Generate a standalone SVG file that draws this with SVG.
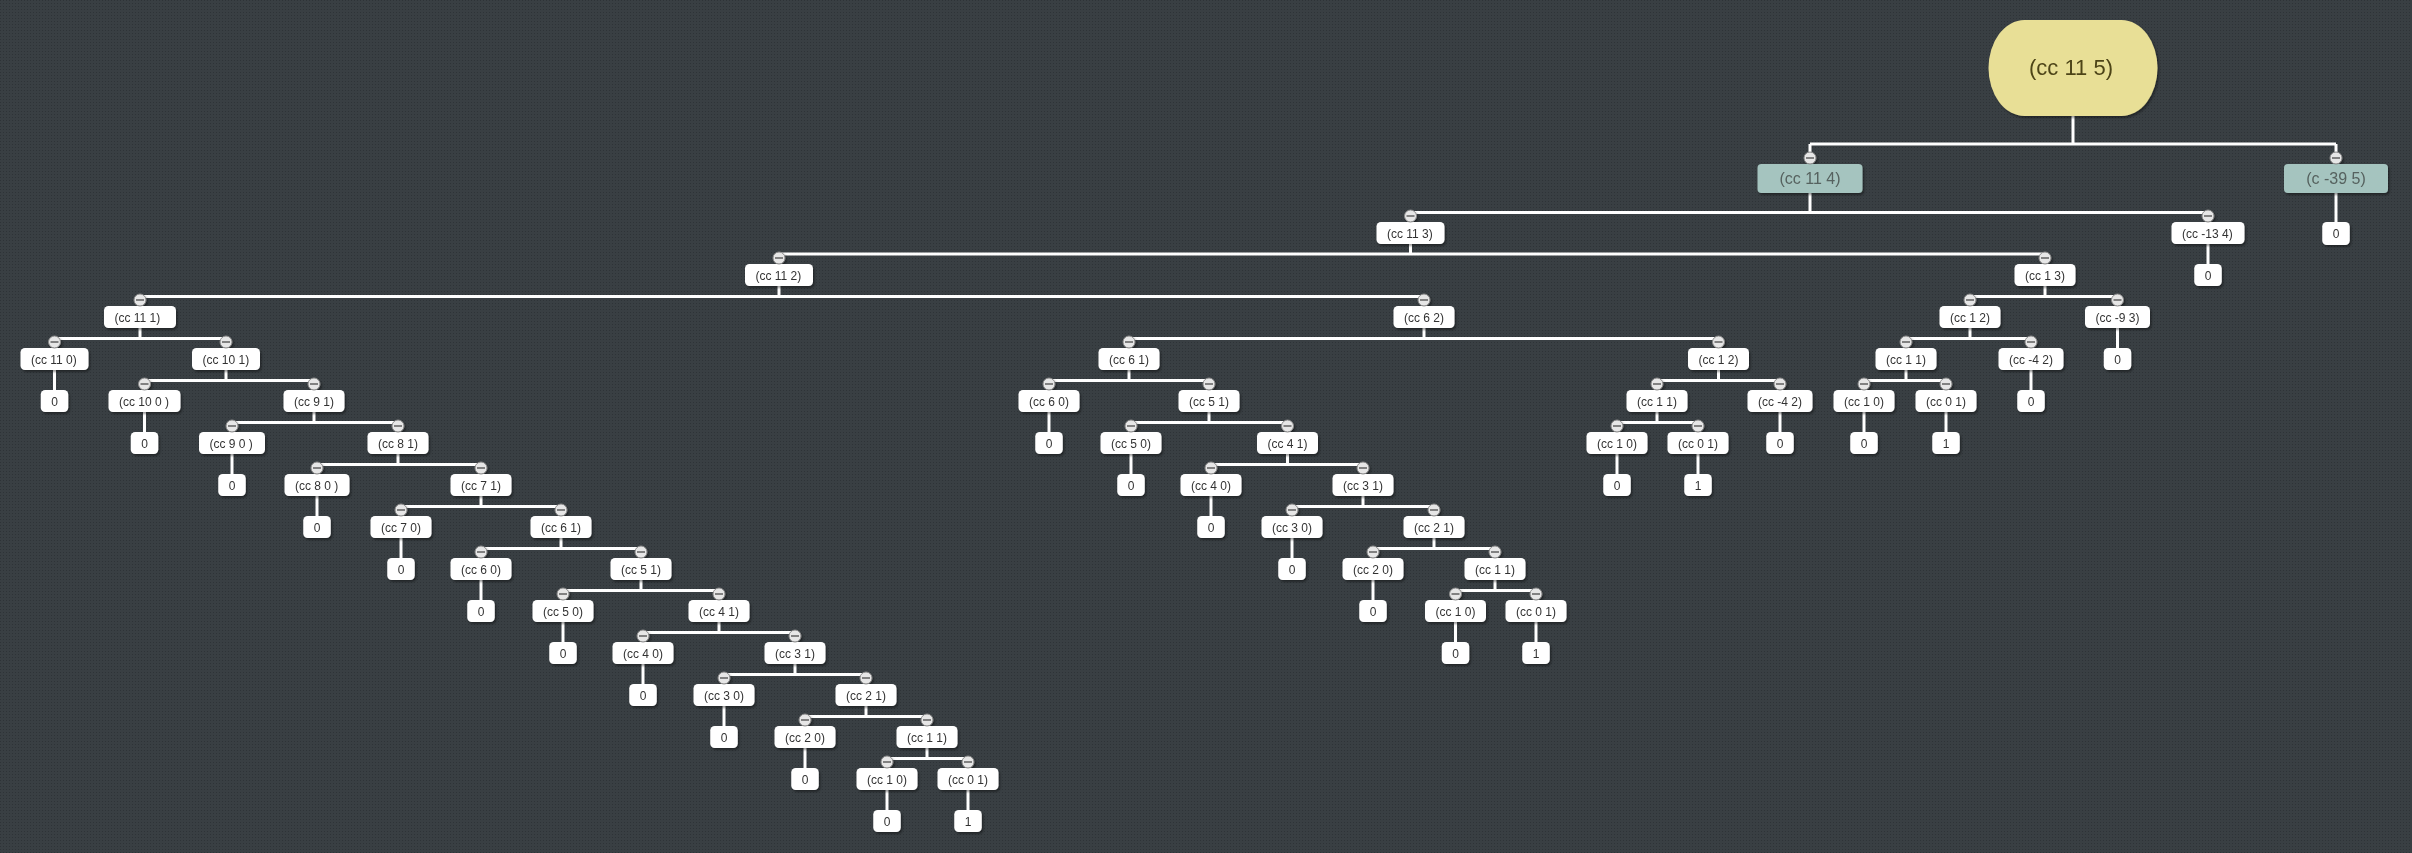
<svg xmlns="http://www.w3.org/2000/svg" xmlns:xlink="http://www.w3.org/1999/xlink" width="2412" height="853" viewBox="0 0 2412 853">
<style>
.n rect{fill:#ffffff}
.n text{font-family:"Liberation Sans",Arial,sans-serif;font-size:12px;fill:#333333}
.n{filter:url(#sh)}
.l1 rect{fill:#a5c4bf}
.l1 text{font-family:"Liberation Sans",Arial,sans-serif;font-size:16px;fill:#56625f;text-anchor:middle}
.root rect{fill:#e8df96}
.root text{font-family:"Liberation Sans",Arial,sans-serif;font-size:22px;fill:#4d4419;text-anchor:middle}
#edges path{stroke:#ffffff;stroke-width:3;fill:none}
</style>
<defs>
<pattern id="dots" width="3" height="3" patternUnits="userSpaceOnUse">
<rect width="3" height="3" fill="#393f43"/>
<rect width="1" height="1" fill="#2e3337"/>
</pattern>
<filter id="sh" x="-20%" y="-20%" width="140%" height="160%">
<feDropShadow dx="1.5" dy="2" stdDeviation="1.2" flood-color="#000" flood-opacity="0.4"/>
</filter>
<g id="tog"><circle r="6" fill="#e6e6e6" stroke="#8a8a8a" stroke-width="1"/><path d="M-4 0H4" stroke="#555" stroke-width="1.4"/></g>
</defs>
<rect width="2412" height="853" fill="url(#dots)"/>

<g id="edges">
<path d="M2073 116V144M1810 144H2336M1810 144V152.5M2336 144V152.5"/>
<path d="M1810 193V212.5M1410.5 212.5H2208"/>
<path d="M2336 193V222"/>
<path d="M1410.5 244V254M779 254H2045"/>
<path d="M2208 244V264"/>
<path d="M779 286V296.5M140 296.5H1424"/>
<path d="M2045 286V296.5M1970 296.5H2117.5"/>
<path d="M140 328V338.5M54.5 338.5H226"/>
<path d="M1424 328V338.5M1129 338.5H1718.5"/>
<path d="M1970 328V338.5M1906 338.5H2031"/>
<path d="M2117.5 328V348"/>
<path d="M54.5 370V390"/>
<path d="M226 370V380.5M144.5 380.5H314"/>
<path d="M1129 370V380.5M1049 380.5H1209"/>
<path d="M1718.5 370V380.5M1657 380.5H1780"/>
<path d="M1906 370V380.5M1864 380.5H1946"/>
<path d="M2031 370V390"/>
<path d="M144.5 412V432"/>
<path d="M314 412V422.5M232 422.5H398"/>
<path d="M1049 412V432"/>
<path d="M1209 412V422.5M1131 422.5H1287.5"/>
<path d="M1657 412V422.5M1617 422.5H1698"/>
<path d="M1780 412V432"/>
<path d="M1864 412V432"/>
<path d="M1946 412V432"/>
<path d="M232 454V474"/>
<path d="M398 454V464.5M317 464.5H481"/>
<path d="M1131 454V474"/>
<path d="M1287.5 454V464.5M1211 464.5H1363"/>
<path d="M1617 454V474"/>
<path d="M1698 454V474"/>
<path d="M317 496V516"/>
<path d="M481 496V506.5M401 506.5H561"/>
<path d="M1211 496V516"/>
<path d="M1363 496V506.5M1292 506.5H1434"/>
<path d="M401 538V558"/>
<path d="M561 538V548.5M481 548.5H641"/>
<path d="M1292 538V558"/>
<path d="M1434 538V548.5M1373 548.5H1495"/>
<path d="M481 580V600"/>
<path d="M641 580V590.5M563 590.5H719"/>
<path d="M1373 580V600"/>
<path d="M1495 580V590.5M1455.5 590.5H1536"/>
<path d="M563 622V642"/>
<path d="M719 622V632.5M643 632.5H795"/>
<path d="M1455.5 622V642"/>
<path d="M1536 622V642"/>
<path d="M643 664V684"/>
<path d="M795 664V674.5M724 674.5H866"/>
<path d="M724 706V726"/>
<path d="M866 706V716.5M805 716.5H927"/>
<path d="M805 748V768"/>
<path d="M927 748V758.5M887 758.5H968"/>
<path d="M887 790V810"/>
<path d="M968 790V810"/>
</g>

<g id="n0" class="n root"><rect x="1988.5" y="20" width="169" height="96" rx="36" ry="48"/><text x="2071" y="75">(cc 11 5)</text></g>
<g id="n1" class="n l1"><rect x="1757.5" y="164" width="105" height="29" rx="4"/><text x="1810" y="184">(cc 11 4)</text><use href="#tog" x="1810" y="158"/></g>
<g id="n2" class="n l1"><rect x="2284" y="164" width="104" height="29" rx="4"/><text x="2336" y="184">(c -39 5)</text><use href="#tog" x="2336" y="158"/></g>

<g id="n3" class="n"><rect x="1376.5" y="222" width="68" height="22" rx="4.5"/><text x="1387" y="237.5">(cc 11 3)</text><use href="#tog" x="1410.5" y="216"/></g>
<g id="n4" class="n"><rect x="2171.5" y="222" width="73" height="22" rx="4.5"/><text x="2182" y="237.5">(cc -13 4)</text><use href="#tog" x="2208" y="216"/></g>
<g id="n5" class="n"><rect x="2322.25" y="222" width="27.5" height="23" rx="4.5"/><text x="2332.75" y="238">0</text></g>

<g id="n6" class="n"><rect x="745" y="264" width="68" height="22" rx="4.5"/><text x="755.5" y="279.5">(cc 11 2)</text><use href="#tog" x="779" y="258"/></g>
<g id="n7" class="n"><rect x="2014.5" y="264" width="61" height="22" rx="4.5"/><text x="2025" y="279.5">(cc 1 3)</text><use href="#tog" x="2045" y="258"/></g>
<g id="n8" class="n"><rect x="2194.25" y="264" width="27.5" height="22" rx="4.5"/><text x="2204.75" y="279.5">0</text></g>

<g id="n9" class="n"><rect x="104" y="306" width="72" height="22" rx="4.5"/><text x="114.5" y="321.5">(cc 11 1)</text><use href="#tog" x="140" y="300"/></g>
<g id="n10" class="n"><rect x="1393.5" y="306" width="61" height="22" rx="4.5"/><text x="1404" y="321.5">(cc 6 2)</text><use href="#tog" x="1424" y="300"/></g>
<g id="n11" class="n"><rect x="1939.5" y="306" width="61" height="22" rx="4.5"/><text x="1950" y="321.5">(cc 1 2)</text><use href="#tog" x="1970" y="300"/></g>
<g id="n12" class="n"><rect x="2085" y="306" width="65" height="22" rx="4.5"/><text x="2095.5" y="321.5">(cc -9 3)</text><use href="#tog" x="2117.5" y="300"/></g>

<g id="n13" class="n"><rect x="20.5" y="348" width="68" height="22" rx="4.5"/><text x="31" y="363.5">(cc 11 0)</text><use href="#tog" x="54.5" y="342"/></g>
<g id="n14" class="n"><rect x="192" y="348" width="68" height="22" rx="4.5"/><text x="202.5" y="363.5">(cc 10 1)</text><use href="#tog" x="226" y="342"/></g>
<g id="n15" class="n"><rect x="1098.5" y="348" width="61" height="22" rx="4.5"/><text x="1109" y="363.5">(cc 6 1)</text><use href="#tog" x="1129" y="342"/></g>
<g id="n16" class="n"><rect x="1688" y="348" width="61" height="22" rx="4.5"/><text x="1698.5" y="363.5">(cc 1 2)</text><use href="#tog" x="1718.5" y="342"/></g>
<g id="n17" class="n"><rect x="1875.5" y="348" width="61" height="22" rx="4.5"/><text x="1886" y="363.5">(cc 1 1)</text><use href="#tog" x="1906" y="342"/></g>
<g id="n18" class="n"><rect x="1998.5" y="348" width="65" height="22" rx="4.5"/><text x="2009" y="363.5">(cc -4 2)</text><use href="#tog" x="2031" y="342"/></g>
<g id="n19" class="n"><rect x="2103.75" y="348" width="27.5" height="22" rx="4.5"/><text x="2114.25" y="363.5">0</text></g>

<g id="n20" class="n"><rect x="40.75" y="390" width="27.5" height="22" rx="4.5"/><text x="51.25" y="405.5">0</text></g>
<g id="n21" class="n"><rect x="108.5" y="390" width="72" height="22" rx="4.5"/><text x="119" y="405.5">(cc 10 0 )</text><use href="#tog" x="144.5" y="384"/></g>
<g id="n22" class="n"><rect x="283.5" y="390" width="61" height="22" rx="4.5"/><text x="294" y="405.5">(cc 9 1)</text><use href="#tog" x="314" y="384"/></g>
<g id="n23" class="n"><rect x="1018.5" y="390" width="61" height="22" rx="4.5"/><text x="1029" y="405.5">(cc 6 0)</text><use href="#tog" x="1049" y="384"/></g>
<g id="n24" class="n"><rect x="1178.5" y="390" width="61" height="22" rx="4.5"/><text x="1189" y="405.5">(cc 5 1)</text><use href="#tog" x="1209" y="384"/></g>
<g id="n25" class="n"><rect x="1626.5" y="390" width="61" height="22" rx="4.5"/><text x="1637" y="405.5">(cc 1 1)</text><use href="#tog" x="1657" y="384"/></g>
<g id="n26" class="n"><rect x="1747.5" y="390" width="65" height="22" rx="4.5"/><text x="1758" y="405.5">(cc -4 2)</text><use href="#tog" x="1780" y="384"/></g>
<g id="n27" class="n"><rect x="1833.5" y="390" width="61" height="22" rx="4.5"/><text x="1844" y="405.5">(cc 1 0)</text><use href="#tog" x="1864" y="384"/></g>
<g id="n28" class="n"><rect x="1915.5" y="390" width="61" height="22" rx="4.5"/><text x="1926" y="405.5">(cc 0 1)</text><use href="#tog" x="1946" y="384"/></g>
<g id="n29" class="n"><rect x="2017.25" y="390" width="27.5" height="22" rx="4.5"/><text x="2027.75" y="405.5">0</text></g>

<g id="n30" class="n"><rect x="130.75" y="432" width="27.5" height="22" rx="4.5"/><text x="141.25" y="447.5">0</text></g>
<g id="n31" class="n"><rect x="199" y="432" width="66" height="22" rx="4.5"/><text x="209.5" y="447.5">(cc 9 0 )</text><use href="#tog" x="232" y="426"/></g>
<g id="n32" class="n"><rect x="367.5" y="432" width="61" height="22" rx="4.5"/><text x="378" y="447.5">(cc 8 1)</text><use href="#tog" x="398" y="426"/></g>
<g id="n33" class="n"><rect x="1035.25" y="432" width="27.5" height="22" rx="4.5"/><text x="1045.75" y="447.5">0</text></g>
<g id="n34" class="n"><rect x="1100.5" y="432" width="61" height="22" rx="4.5"/><text x="1111" y="447.5">(cc 5 0)</text><use href="#tog" x="1131" y="426"/></g>
<g id="n35" class="n"><rect x="1257" y="432" width="61" height="22" rx="4.5"/><text x="1267.5" y="447.5">(cc 4 1)</text><use href="#tog" x="1287.5" y="426"/></g>
<g id="n36" class="n"><rect x="1586.5" y="432" width="61" height="22" rx="4.5"/><text x="1597" y="447.5">(cc 1 0)</text><use href="#tog" x="1617" y="426"/></g>
<g id="n37" class="n"><rect x="1667.5" y="432" width="61" height="22" rx="4.5"/><text x="1678" y="447.5">(cc 0 1)</text><use href="#tog" x="1698" y="426"/></g>
<g id="n38" class="n"><rect x="1766.25" y="432" width="27.5" height="22" rx="4.5"/><text x="1776.75" y="447.5">0</text></g>
<g id="n39" class="n"><rect x="1850.25" y="432" width="27.5" height="22" rx="4.5"/><text x="1860.75" y="447.5">0</text></g>
<g id="n40" class="n"><rect x="1932.25" y="432" width="27.5" height="22" rx="4.5"/><text x="1942.75" y="447.5">1</text></g>

<g id="n41" class="n"><rect x="218.25" y="474" width="27.5" height="22" rx="4.5"/><text x="228.75" y="489.5">0</text></g>
<g id="n42" class="n"><rect x="284.5" y="474" width="65" height="22" rx="4.5"/><text x="295" y="489.5">(cc 8 0 )</text><use href="#tog" x="317" y="468"/></g>
<g id="n43" class="n"><rect x="450.5" y="474" width="61" height="22" rx="4.5"/><text x="461" y="489.5">(cc 7 1)</text><use href="#tog" x="481" y="468"/></g>
<g id="n44" class="n"><rect x="1117.25" y="474" width="27.5" height="22" rx="4.5"/><text x="1127.75" y="489.5">0</text></g>
<g id="n45" class="n"><rect x="1180.5" y="474" width="61" height="22" rx="4.5"/><text x="1191" y="489.5">(cc 4 0)</text><use href="#tog" x="1211" y="468"/></g>
<g id="n46" class="n"><rect x="1332.5" y="474" width="61" height="22" rx="4.5"/><text x="1343" y="489.5">(cc 3 1)</text><use href="#tog" x="1363" y="468"/></g>
<g id="n47" class="n"><rect x="1603.25" y="474" width="27.5" height="22" rx="4.5"/><text x="1613.75" y="489.5">0</text></g>
<g id="n48" class="n"><rect x="1684.25" y="474" width="27.5" height="22" rx="4.5"/><text x="1694.75" y="489.5">1</text></g>

<g id="n49" class="n"><rect x="303.25" y="516" width="27.5" height="22" rx="4.5"/><text x="313.75" y="531.5">0</text></g>
<g id="n50" class="n"><rect x="370.5" y="516" width="61" height="22" rx="4.5"/><text x="381" y="531.5">(cc 7 0)</text><use href="#tog" x="401" y="510"/></g>
<g id="n51" class="n"><rect x="530.5" y="516" width="61" height="22" rx="4.5"/><text x="541" y="531.5">(cc 6 1)</text><use href="#tog" x="561" y="510"/></g>
<g id="n52" class="n"><rect x="1197.25" y="516" width="27.5" height="22" rx="4.5"/><text x="1207.75" y="531.5">0</text></g>
<g id="n53" class="n"><rect x="1261.5" y="516" width="61" height="22" rx="4.5"/><text x="1272" y="531.5">(cc 3 0)</text><use href="#tog" x="1292" y="510"/></g>
<g id="n54" class="n"><rect x="1403.5" y="516" width="61" height="22" rx="4.5"/><text x="1414" y="531.5">(cc 2 1)</text><use href="#tog" x="1434" y="510"/></g>

<g id="n55" class="n"><rect x="387.25" y="558" width="27.5" height="22" rx="4.5"/><text x="397.75" y="573.5">0</text></g>
<g id="n56" class="n"><rect x="450.5" y="558" width="61" height="22" rx="4.5"/><text x="461" y="573.5">(cc 6 0)</text><use href="#tog" x="481" y="552"/></g>
<g id="n57" class="n"><rect x="610.5" y="558" width="61" height="22" rx="4.5"/><text x="621" y="573.5">(cc 5 1)</text><use href="#tog" x="641" y="552"/></g>
<g id="n58" class="n"><rect x="1278.25" y="558" width="27.5" height="22" rx="4.5"/><text x="1288.75" y="573.5">0</text></g>
<g id="n59" class="n"><rect x="1342.5" y="558" width="61" height="22" rx="4.5"/><text x="1353" y="573.5">(cc 2 0)</text><use href="#tog" x="1373" y="552"/></g>
<g id="n60" class="n"><rect x="1464.5" y="558" width="61" height="22" rx="4.5"/><text x="1475" y="573.5">(cc 1 1)</text><use href="#tog" x="1495" y="552"/></g>

<g id="n61" class="n"><rect x="467.25" y="600" width="27.5" height="22" rx="4.5"/><text x="477.75" y="615.5">0</text></g>
<g id="n62" class="n"><rect x="532.5" y="600" width="61" height="22" rx="4.5"/><text x="543" y="615.5">(cc 5 0)</text><use href="#tog" x="563" y="594"/></g>
<g id="n63" class="n"><rect x="688.5" y="600" width="61" height="22" rx="4.5"/><text x="699" y="615.5">(cc 4 1)</text><use href="#tog" x="719" y="594"/></g>
<g id="n64" class="n"><rect x="1359.25" y="600" width="27.5" height="22" rx="4.5"/><text x="1369.75" y="615.5">0</text></g>
<g id="n65" class="n"><rect x="1425" y="600" width="61" height="22" rx="4.5"/><text x="1435.5" y="615.5">(cc 1 0)</text><use href="#tog" x="1455.5" y="594"/></g>
<g id="n66" class="n"><rect x="1505.5" y="600" width="61" height="22" rx="4.5"/><text x="1516" y="615.5">(cc 0 1)</text><use href="#tog" x="1536" y="594"/></g>

<g id="n67" class="n"><rect x="549.25" y="642" width="27.5" height="22" rx="4.5"/><text x="559.75" y="657.5">0</text></g>
<g id="n68" class="n"><rect x="612.5" y="642" width="61" height="22" rx="4.5"/><text x="623" y="657.5">(cc 4 0)</text><use href="#tog" x="643" y="636"/></g>
<g id="n69" class="n"><rect x="764.5" y="642" width="61" height="22" rx="4.5"/><text x="775" y="657.5">(cc 3 1)</text><use href="#tog" x="795" y="636"/></g>
<g id="n70" class="n"><rect x="1441.75" y="642" width="27.5" height="22" rx="4.5"/><text x="1452.25" y="657.5">0</text></g>
<g id="n71" class="n"><rect x="1522.25" y="642" width="27.5" height="22" rx="4.5"/><text x="1532.75" y="657.5">1</text></g>

<g id="n72" class="n"><rect x="629.25" y="684" width="27.5" height="22" rx="4.5"/><text x="639.75" y="699.5">0</text></g>
<g id="n73" class="n"><rect x="693.5" y="684" width="61" height="22" rx="4.5"/><text x="704" y="699.5">(cc 3 0)</text><use href="#tog" x="724" y="678"/></g>
<g id="n74" class="n"><rect x="835.5" y="684" width="61" height="22" rx="4.5"/><text x="846" y="699.5">(cc 2 1)</text><use href="#tog" x="866" y="678"/></g>

<g id="n75" class="n"><rect x="710.25" y="726" width="27.5" height="22" rx="4.5"/><text x="720.75" y="741.5">0</text></g>
<g id="n76" class="n"><rect x="774.5" y="726" width="61" height="22" rx="4.5"/><text x="785" y="741.5">(cc 2 0)</text><use href="#tog" x="805" y="720"/></g>
<g id="n77" class="n"><rect x="896.5" y="726" width="61" height="22" rx="4.5"/><text x="907" y="741.5">(cc 1 1)</text><use href="#tog" x="927" y="720"/></g>

<g id="n78" class="n"><rect x="791.25" y="768" width="27.5" height="22" rx="4.5"/><text x="801.75" y="783.5">0</text></g>
<g id="n79" class="n"><rect x="856.5" y="768" width="61" height="22" rx="4.5"/><text x="867" y="783.5">(cc 1 0)</text><use href="#tog" x="887" y="762"/></g>
<g id="n80" class="n"><rect x="937.5" y="768" width="61" height="22" rx="4.5"/><text x="948" y="783.5">(cc 0 1)</text><use href="#tog" x="968" y="762"/></g>

<g id="n81" class="n"><rect x="873.25" y="810" width="27.5" height="22" rx="4.5"/><text x="883.75" y="825.5">0</text></g>
<g id="n82" class="n"><rect x="954.25" y="810" width="27.5" height="22" rx="4.5"/><text x="964.75" y="825.5">1</text></g>
</svg>
